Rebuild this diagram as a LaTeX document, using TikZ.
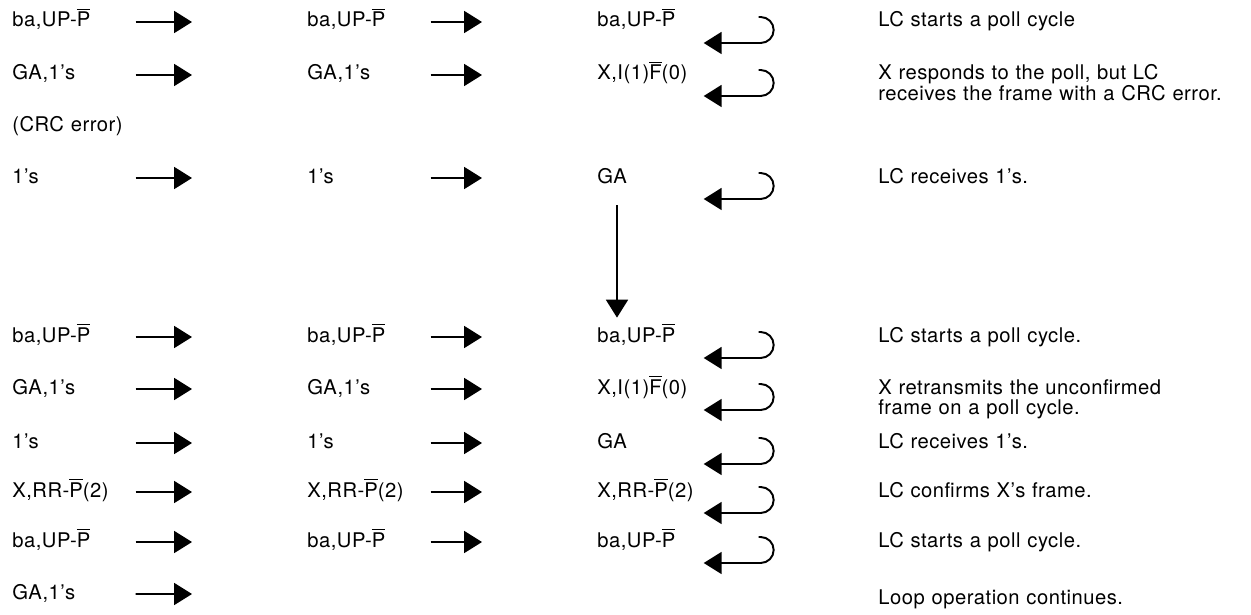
\documentclass[tikz,border=0pt]{standalone}
\usepackage{fontspec}
\setmainfont{TeX Gyre Heros}[LetterSpace=2.5]
\usetikzlibrary{arrows.meta}
\newcommand{\ovl}[1]{$\overline{\hbox{#1}}$}

\begin{document}
\begin{tikzpicture}[
  x=0.02cm, y=-0.02cm,
  font=\fontsize{11.5}{11.4}\selectfont,
  txt/.style={anchor=base west, inner sep=0pt, text width=2.2cm, align=left, text height=0.3cm, text depth=0.1cm},
  desc/.style={anchor=base west, inner sep=0pt, text width=7.6cm, align=left},
  arr/.style={-{Triangle[length=0.36cm,width=0.44cm]}, line width=1.1pt},
  fwd/.style={arr, shorten <=0.26cm, shorten >=2.3cm}
]
\useasboundingbox (0,0) rectangle (1251,615);

% first poll cycle
\node[txt] (a1) at (12,27) {ba,UP-\ovl{P}};
\node[txt] (b1) at (307,27) {ba,UP-\ovl{P}};
\node[txt] (c1) at (597,27) {ba,UP-\ovl{P}};
\node[desc] (d1) at (878,27) {LC starts a poll cycle};

\node[txt] (a2) at (12,80) {GA,1's};
\node[txt] (b2) at (307,80) {GA,1's};
\node[txt] (c2) at (597,80) {X,I(1)\ovl{F}(0)};
\node[desc] (d2) at (878,80) {X responds to the poll, but LC\\receives the frame with a CRC error.};

\node[desc] (e) at (12,132) {(CRC error)};

\node[txt] (a3) at (12,183) {1's};
\node[txt] (b3) at (307,183) {1's};
\node[txt] (c3) at (597,183) {GA};
\node[desc] (d3) at (878,183) {LC receives 1's.};

% second poll cycle
\node[txt] (a4) at (12,342) {ba,UP-\ovl{P}};
\node[txt] (b4) at (307,342) {ba,UP-\ovl{P}};
\node[txt] (c4) at (597,342) {ba,UP-\ovl{P}};
\node[desc] (d4) at (878,342) {LC starts a poll cycle.};

\node[txt] (a5) at (12,394) {GA,1's};
\node[txt] (b5) at (307,394) {GA,1's};
\node[txt] (c5) at (597,394) {X,I(1)\ovl{F}(0)};
\node[desc] (d5) at (878,394) {X retransmits the unconfirmed\\frame on a poll cycle.};

\node[txt] (a6) at (12,448) {1's};
\node[txt] (b6) at (307,448) {1's};
\node[txt] (c6) at (597,448) {GA};
\node[desc] (d6) at (878,448) {LC receives 1's.};

\node[txt] (a7) at (12,497) {X,RR-\ovl{P}(2)};
\node[txt] (b7) at (307,497) {X,RR-\ovl{P}(2)};
\node[txt] (c7) at (597,497) {X,RR-\ovl{P}(2)};
\node[desc] (d7) at (878,497) {LC confirms X's frame.};

\node[txt] (a8) at (12,547) {ba,UP-\ovl{P}};
\node[txt] (b8) at (307,547) {ba,UP-\ovl{P}};
\node[txt] (c8) at (597,547) {ba,UP-\ovl{P}};
\node[desc] (d8) at (878,547) {LC starts a poll cycle.};

\node[txt] (a9) at (12,599) {GA,1's};
\coordinate (b9) at (307,594);
\node[desc] (d9) at (878,604) {Loop operation continues.};

% relay arrows
\draw[fwd] (a1.east) -- (b1.west);
\draw[fwd] (b1.east) -- (c1.west);
\draw[fwd] (a2.east) -- (b2.west);
\draw[fwd] (b2.east) -- (c2.west);
\draw[fwd] (a3.east) -- (b3.west);
\draw[fwd] (b3.east) -- (c3.west);
\draw[fwd] (a4.east) -- (b4.west);
\draw[fwd] (b4.east) -- (c4.west);
\draw[fwd] (a5.east) -- (b5.west);
\draw[fwd] (b5.east) -- (c5.west);
\draw[fwd] (a6.east) -- (b6.west);
\draw[fwd] (b6.east) -- (c6.west);
\draw[fwd] (a7.east) -- (b7.west);
\draw[fwd] (b7.east) -- (c7.west);
\draw[fwd] (a8.east) -- (b8.west);
\draw[fwd] (b8.east) -- (c8.west);
\draw[fwd] (a9.east) -- (b9);

% returns at LC
\draw[arr] ([shift={(51,-5)}]c1.east) -- ++(2,0) arc[start angle=90, end angle=-90, radius=0.26cm] -- ++(-57,0);
\draw[arr] ([shift={(51,-5)}]c2.east) -- ++(2,0) arc[start angle=90, end angle=-90, radius=0.26cm] -- ++(-57,0);
\draw[arr] ([shift={(51,-5)}]c3.east) -- ++(2,0) arc[start angle=90, end angle=-90, radius=0.26cm] -- ++(-57,0);
\draw[arr] ([shift={(51,-5)}]c4.east) -- ++(2,0) arc[start angle=90, end angle=-90, radius=0.26cm] -- ++(-57,0);
\draw[arr] ([shift={(51,-5)}]c5.east) -- ++(2,0) arc[start angle=90, end angle=-90, radius=0.26cm] -- ++(-57,0);
\draw[arr] ([shift={(51,-5)}]c6.east) -- ++(2,0) arc[start angle=90, end angle=-90, radius=0.26cm] -- ++(-57,0);
\draw[arr] ([shift={(51,-5)}]c7.east) -- ++(2,0) arc[start angle=90, end angle=-90, radius=0.26cm] -- ++(-57,0);
\draw[arr] ([shift={(51,-5)}]c8.east) -- ++(2,0) arc[start angle=90, end angle=-90, radius=0.26cm] -- ++(-57,0);

% retry after CRC error
\draw[arr, shorten <=0.34cm, shorten >=0.18cm] ([shift={(20,0)}]c3.south west) -- ([shift={(20,0)}]c4.north west);
\end{tikzpicture}
\end{document}
